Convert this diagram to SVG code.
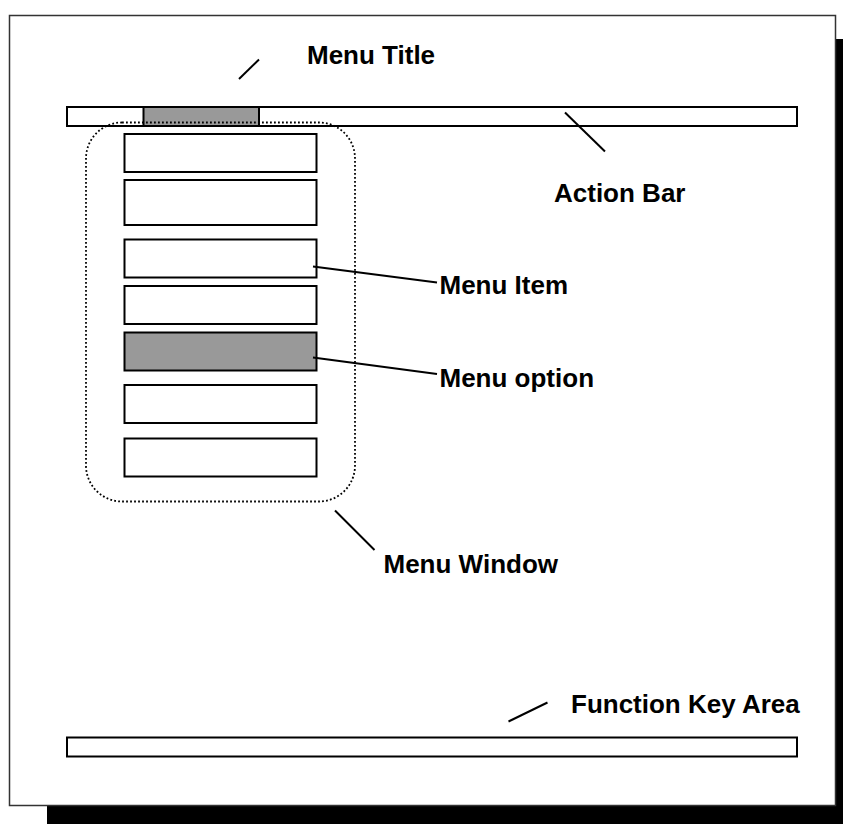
<svg xmlns="http://www.w3.org/2000/svg" width="843" height="824" viewBox="0 0 843 824">
<style>
.lbl{font-family:"Liberation Sans",Arial,sans-serif;font-weight:bold;font-size:26px;fill:#000}
.box{fill:#fff;stroke:#000;stroke-width:2}
.sel{fill:#999;stroke:#000;stroke-width:2}
.lead{stroke:#000;stroke-width:2;fill:none}
</style>
<rect width="843" height="824" fill="#fff"/>
<g id="screen">
<rect x="47" y="39" width="800" height="790" fill="#000"/>
<rect x="9.5" y="15.5" width="826" height="790" fill="#fff" stroke="#333" stroke-width="1.5"/>
</g>
<g id="action-bar">
<rect class="box" x="67" y="107" width="730" height="19"/>
<rect class="sel" x="143.5" y="107" width="115.5" height="19"/>
</g>
<g id="menu-window">
<rect x="86" y="122.5" width="269" height="379" rx="36" ry="36" fill="none" stroke="#000" stroke-width="1.8" stroke-dasharray="1.8,2.2"/>
</g>
<g id="menu-items">
<rect class="box" x="124.5" y="134" width="192" height="38"/>
<rect class="box" x="124.5" y="180" width="192" height="45"/>
<rect class="box" x="124.5" y="239.5" width="192" height="38"/>
<rect class="box" x="124.5" y="286" width="192" height="38"/>
<rect class="sel" x="124.5" y="332.5" width="192" height="38"/>
<rect class="box" x="124.5" y="385" width="192" height="38"/>
<rect class="box" x="124.5" y="438.5" width="192" height="38"/>
</g>
<g id="function-key-area">
<rect class="box" x="67" y="737.5" width="730" height="19"/>
</g>
<g id="connectors">
<line class="lead" x1="239" y1="79" x2="259" y2="59.5"/>
<line class="lead" x1="565" y1="112.5" x2="605" y2="151.5"/>
<line class="lead" x1="313" y1="266.5" x2="437" y2="282.5"/>
<line class="lead" x1="313" y1="357.5" x2="437" y2="374"/>
<line class="lead" x1="335" y1="510.5" x2="374.5" y2="550"/>
<line class="lead" x1="508.5" y1="721.5" x2="547.5" y2="702.5"/>
</g>
<g id="labels">
<text class="lbl" x="307" y="63.5">Menu Title</text>
<text class="lbl" x="554" y="202">Action Bar</text>
<text class="lbl" x="439.5" y="294">Menu Item</text>
<text class="lbl" x="439.5" y="387">Menu option</text>
<text class="lbl" x="383.5" y="572.5">Menu Window</text>
<text class="lbl" x="571" y="713">Function Key Area</text>
</g>
</svg>
